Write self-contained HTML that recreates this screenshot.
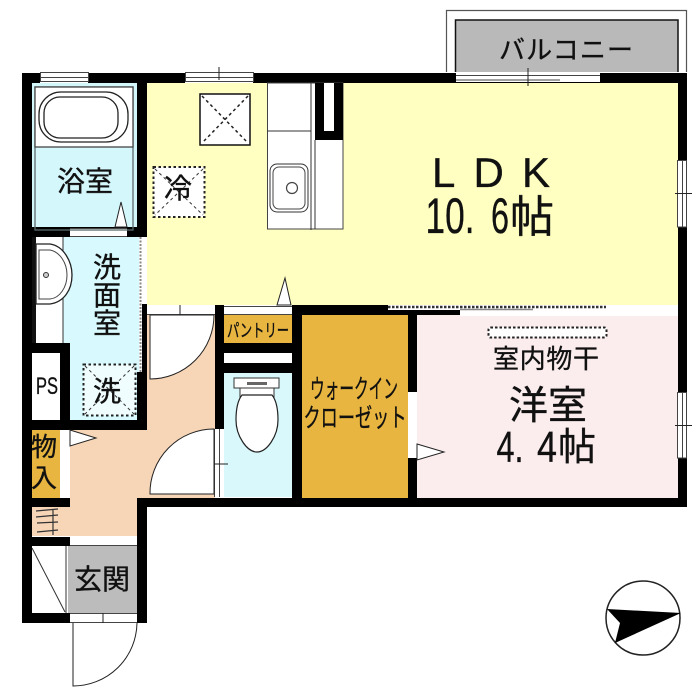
<!DOCTYPE html>
<html lang="ja"><head><meta charset="utf-8"><style>
html,body{margin:0;padding:0;background:#fff}
svg{display:block}
text{font-family:"Liberation Sans","Noto Sans CJK JP",sans-serif;fill:#111;stroke:#111;stroke-width:.35}
</style></head><body>
<svg width="700" height="700" viewBox="0 0 700 700" xmlns="http://www.w3.org/2000/svg">
<rect width="700" height="700" fill="#fff"/>
<!-- balcony -->
<path d="M446.500 72V10.500H686.500V72" fill="#fff" stroke="#555" stroke-width="1.200"/>
<rect x="455" y="20" width="223" height="52" fill="#b9b9b9"/>
<path d="M455.500 72V20H678V72" fill="none" stroke="#111" stroke-width="1.500"/>
<!-- floors -->
<rect x="147" y="83" width="531" height="222" fill="#ffffc2"/>
<rect x="417" y="310" width="261" height="188" fill="#fbeded"/>
<rect x="302" y="315" width="106" height="183" fill="#e8b540"/>
<rect x="224" y="315" width="68" height="28" fill="#e8b540"/>
<rect x="224" y="353" width="68" height="10" fill="#fff"/>
<rect x="224" y="373" width="68" height="124" fill="#d8f8fb"/>
<path d="M147 305H215V498H137V536H32V507H70V430H147Z" fill="#f7d6b8"/>
<rect x="32" y="83" width="105" height="144" fill="#d4f7fb"/>
<rect x="32" y="237" width="107" height="183" fill="#d8f9fd"/>
<rect x="32" y="237" width="31" height="106" fill="#fff"/>
<rect x="32" y="353" width="28" height="67" fill="#fff"/>
<rect x="32" y="430" width="28" height="68" fill="#e8b540"/>
<rect x="60" y="430" width="9" height="68" fill="#fff"/>
<rect x="68" y="546" width="69" height="67" fill="#bcbcbc"/>
<rect x="32" y="546" width="36" height="67" fill="#fff"/>
<!-- walls -->
<g fill="#000">
<rect x="22" y="73" width="10" height="550"/>
<rect x="22" y="73" width="665" height="10"/>
<rect x="678" y="73" width="9" height="434"/>
<rect x="137" y="498" width="550" height="9"/>
<rect x="137" y="83" width="10" height="154"/>
<rect x="22" y="227" width="125" height="10"/>
<rect x="142" y="304" width="5" height="126"/>
<rect x="137" y="372" width="5" height="58"/>
<rect x="22" y="420" width="125" height="10"/>
<rect x="32" y="343" width="38" height="10"/>
<rect x="60" y="343" width="10" height="87"/>
<rect x="22" y="498" width="48" height="9"/>
<rect x="22" y="537" width="48" height="9"/>
<rect x="22" y="613" width="125" height="10"/>
<rect x="137" y="498" width="10" height="125"/>
<rect x="215" y="305" width="9" height="124"/>
<rect x="224" y="343" width="68" height="10"/>
<rect x="224" y="363" width="68" height="10"/>
<rect x="292" y="305" width="10" height="202"/>
<rect x="292" y="305" width="168" height="10"/>
<rect x="408" y="305" width="9" height="202"/>
</g>
<!-- openings -->
<g fill="#fff">
<rect x="40" y="72" width="48" height="11"/>
<rect x="185" y="72" width="68" height="11"/>
<rect x="456" y="72" width="144" height="10"/>
<rect x="678" y="160" width="9" height="67"/>
<rect x="678" y="392" width="9" height="66"/>
<rect x="408" y="392" width="9" height="66"/>
<rect x="70" y="228" width="57" height="8"/>
<rect x="147" y="305" width="68" height="10"/>
<rect x="224" y="306" width="68" height="9"/>
<rect x="215" y="429" width="9" height="68"/>
<rect x="70" y="537" width="67" height="9"/>
<rect x="70" y="614" width="67" height="9"/>
<rect x="460" y="310" width="218" height="6"/>
<rect x="139" y="237" width="3" height="135"/>
<rect x="388" y="305" width="218" height="5"/>
</g>
<g fill="none" stroke="#444" stroke-width="1">
<rect x="40.500" y="72.500" width="48" height="9"/>
<path d="M40 77.500H88"/>
<rect x="185.500" y="72.500" width="68" height="9"/>
<path d="M185 77.500H253"/>
<path d="M456 75.500H600M456 80H560"/>
<rect x="677.500" y="160.500" width="9" height="66.500"/>
<path d="M682.500 160V227"/>
<rect x="677.500" y="392.500" width="9" height="65.500"/>
<path d="M682.500 392V458"/>
<path d="M147 314.500H215M224 306.500H292M224 314.500H292M70 236.500H127M70 228.500H127M70 545.500H137M70 613.500H137M70 622.500H137"/>
<path d="M219.500 429V497"/>
<path d="M214.500 429V497"/>
</g>
<path d="M219 67v13M528 68v18M675 193.500h17M675 425.500h17M180 305v11M211 464h17M103 613v11" stroke="#222" stroke-width="1" fill="none"/>
<path d="M388 307H606" stroke="#333" stroke-width="2.500" stroke-dasharray="2.500 1.500" fill="none"/>
<path d="M460 309.500H533" stroke="#888" stroke-width="1.500"/>
<path d="M140.500 237V372" stroke="#888" stroke-width="2" stroke-dasharray="2 1.500"/>
<!-- door swings -->
<path d="M150 315H214A64 64 0 0 1 150 379Z" fill="#fff" stroke="#222" stroke-width="1"/>
<path d="M214 429V494H150A64 64 0 0 1 214 429Z" fill="#fff" stroke="#222" stroke-width="1"/>
<path d="M73 623V686A64 64 0 0 0 137 623" fill="#fff" stroke="#222" stroke-width="1"/>
<path d="M115 227L121 202L127 227Z M277 305L285 278L291 305Z" fill="#fff" stroke="#222"/>
<path d="M70 430L96 438L70 446Z M417 444L444 452L417 460Z" fill="#fff" stroke="#222"/>
<!-- kitchen -->
<rect x="267.500" y="83" width="75.500" height="146" fill="#fff" stroke="#444"/>
<rect x="315" y="83" width="28" height="57" fill="#000"/>
<rect x="324" y="83" width="10" height="48" fill="#fff"/>
<path d="M267 131H311M311 83V230M315 140V229" stroke="#333" fill="none"/>
<rect x="270" y="164" width="38" height="48" rx="7" fill="#fff" stroke="#333" stroke-width="1"/>
<rect x="273" y="167" width="32" height="42" rx="6" fill="none" stroke="#444" stroke-width="1"/>
<circle cx="292" cy="188" r="5.500" fill="#fff" stroke="#444" stroke-width="1.200"/>
<!-- duct -->
<rect x="200" y="94" width="50" height="51" fill="#fff" stroke="#111" stroke-width="1.500"/>
<path d="M202 96L248 143M248 96L202 143" stroke="#222" stroke-width="1.500" stroke-dasharray="3 3"/>
<!-- fridge -->
<rect x="153.500" y="167" width="51" height="50" fill="#fff" stroke="#222" stroke-width="2" stroke-dasharray="2.500 2.500"/>
<path d="M155 169L203 215M203 169L155 215" stroke="#333" stroke-dasharray="3 3"/>
<!-- bath -->
<rect x="35" y="87" width="98" height="143" fill="none" stroke="#5a6b6b" stroke-width="1.300"/>
<rect x="35" y="87" width="98" height="60" fill="#fff" stroke="#444" stroke-width="1.300"/>
<rect x="39" y="92" width="89" height="50" rx="22" fill="#fff" stroke="#222" stroke-width="1.300"/>
<rect x="44" y="97" width="74" height="41" rx="16" fill="#fff" stroke="#222" stroke-width="1.300"/>
<!-- vanity -->
<path d="M63 237V343" stroke="#333" stroke-width="1" fill="none"/>
<rect x="32" y="237" width="4" height="106" fill="#111"/>
<path d="M36 244H50C64 246 72 262 72 275C72 290 64 302 50 304H36Z" fill="#fff" stroke="#222" stroke-width="1.300"/>
<path d="M39 250H50C60 252 67 263 67 275C67 287 60 298 50 299H39Z" fill="#fff" stroke="#444"/>
<circle cx="46" cy="275" r="2.500" fill="#ccc" stroke="#333"/>
<!-- laundry -->
<rect x="83.500" y="364.500" width="52" height="51" fill="#fff" fill-opacity=".6" stroke="#222" stroke-width="2" stroke-dasharray="2.500 2.500"/>
<path d="M85 366L134 414M134 366L85 414" stroke="#333" stroke-dasharray="3 3"/>
<!-- toilet -->
<path d="M240 386H274V400H240Z" fill="#fff" stroke="#333"/>
<path d="M234 378H279V388H234Z" fill="#fff" stroke="#333"/>
<rect x="247" y="382" width="20" height="3" fill="#666"/>
<path d="M242 395H272C276 400 278 408 278 420C278 436 267 452 257 452C247 452 236 436 236 420C236 408 238 400 242 395Z" fill="#fff" stroke="#222" stroke-width="1.200"/>
<!-- stairs -->
<path d="M36 511L58 509M36 517L58 515M37 523L58 522M37 532L58 530M53 510V535" stroke="#333" stroke-width="1.200"/>
<!-- shoes closet -->
<path d="M32 548L65 612M66 546V613" stroke="#333" stroke-width="1" fill="none"/>
<!-- dry rack -->
<rect x="488.500" y="327.500" width="118" height="10" rx="2" fill="#fff" stroke="#222" stroke-width="2" stroke-dasharray="2.500 2"/>
<!-- north -->
<circle cx="643" cy="618" r="37" fill="#fff" stroke="#222" stroke-width="1.500"/>
<path d="M607 609L681 613L615 643L620 623Z" fill="#000"/>
<!-- text -->
<g text-anchor="middle" font-size="28">
<text x="85" y="191" textLength="56">浴室</text>
<text x="107" y="277">洗</text>
<text x="107" y="305">面</text>
<text x="107" y="333">室</text>
<text x="107" y="401">洗</text>
<text x="178" y="198">冷</text>
<text x="47" y="394" font-size="24" textLength="22" lengthAdjust="spacingAndGlyphs">PS</text>
<text x="44" y="456" font-size="26">物</text>
<text x="44" y="487" font-size="26">入</text>
<text x="102" y="589">玄関</text>
<text x="566" y="59" font-size="26" textLength="134" lengthAdjust="spacing">バルコニー</text>
<text x="491" y="187" font-size="42" textLength="118" lengthAdjust="spacing">LDK</text>
<text x="450" y="233" font-size="50" textLength="49" lengthAdjust="spacingAndGlyphs">10.</text>
<text x="500" y="233" font-size="50" textLength="18" lengthAdjust="spacingAndGlyphs">6</text>
<text x="532" y="232" font-size="44">帖</text>
<text x="258" y="337" font-size="18" textLength="62" lengthAdjust="spacingAndGlyphs">パントリー</text>
<text x="354" y="398" font-size="26" textLength="88" lengthAdjust="spacingAndGlyphs">ウォークイン</text>
<text x="355" y="427" font-size="26" textLength="103" lengthAdjust="spacingAndGlyphs">クローゼット</text>
<text x="546" y="368" font-size="26" textLength="106" lengthAdjust="spacing">室内物干</text>
<text x="548" y="419" font-size="39">洋室</text>
<text x="510" y="462" font-size="44" textLength="27" lengthAdjust="spacingAndGlyphs">4.</text>
<text x="547" y="462" font-size="44" textLength="20" lengthAdjust="spacingAndGlyphs">4</text>
<text x="577" y="460" font-size="38">帖</text>
</g>
</svg>
</body></html>
